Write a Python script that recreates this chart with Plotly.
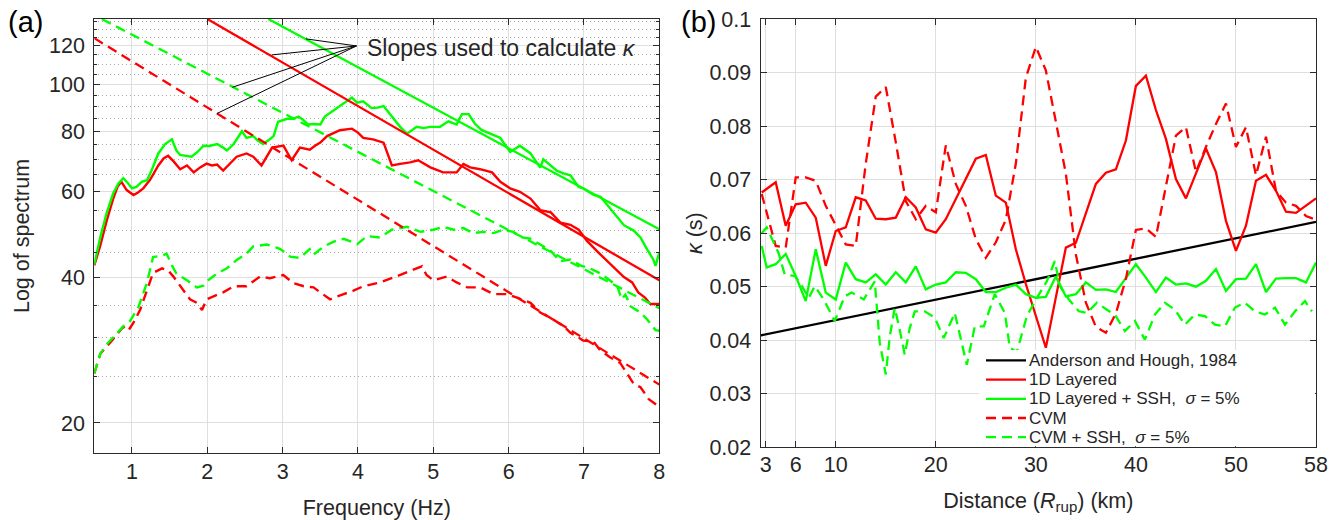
import math
import plotly.graph_objects as go

W, H = 1338, 520

# ---------------- Panel (a): spectra ----------------
freq_1d_ssh = [0.50, 0.58, 0.66, 0.75, 0.82, 0.885, 0.95, 1.00, 1.06, 1.13, 1.20, 1.26, 1.35, 1.44, 1.53, 1.59,
               1.64, 1.72, 1.79, 1.87, 1.95, 2.03, 2.13, 2.20, 2.26, 2.35, 2.46, 2.52, 2.61, 2.67, 2.74, 2.82,
               2.88, 2.94, 3.06, 3.14, 3.21, 3.27, 3.34, 3.42, 3.50, 3.56, 3.67, 3.76, 3.81, 3.92, 3.99, 4.07,
               4.18, 4.26, 4.34, 4.45, 4.56, 4.65, 4.78, 4.87, 4.96, 5.09, 5.20, 5.31, 5.38, 5.47, 5.55, 5.64,
               5.77, 5.89, 6.02, 6.15, 6.29, 6.42, 6.46, 6.55, 6.64, 6.73, 6.82, 6.93, 6.99, 7.06, 7.13, 7.22,
               7.35, 7.44, 7.53, 7.66, 7.75, 7.84, 7.92, 7.95, 8.00]
amp_1d_ssh = [42.5, 48.4, 54.0, 59.5, 62.4, 64.0, 62.4, 61.0, 61.4, 62.9, 63.4, 66.4, 72.0, 75.3, 77.0, 73.0,
              71.5, 71.2, 70.9, 72.5, 74.7, 74.6, 75.3, 74.2, 73.0, 75.3, 80.0, 77.5, 78.2, 76.5, 75.3, 76.8,
              78.2, 83.7, 84.9, 84.9, 85.8, 84.5, 82.6, 82.8, 82.6, 85.8, 88.3, 90.4, 91.6, 93.9, 91.6, 92.2,
              89.3, 89.5, 90.2, 85.8, 81.7, 79.1, 81.7, 81.2, 81.7, 81.7, 83.9, 82.6, 86.8, 86.8, 83.0, 80.5,
              79.0, 77.5, 72.5, 74.7, 72.0, 67.3, 70.0, 68.0, 66.3, 65.5, 64.9, 61.4, 61.0, 60.0, 59.1, 58.6,
              55.4, 53.5, 51.2, 49.9, 48.3, 45.6, 43.5, 42.2, 45.0]

freq_1d = [0.50, 0.58, 0.66, 0.75, 0.81, 0.86, 0.93, 1.02, 1.08, 1.15, 1.24, 1.35, 1.42, 1.48, 1.55, 1.64,
           1.73, 1.82, 1.90, 1.99, 2.06, 2.13, 2.21, 2.30, 2.39, 2.52, 2.61, 2.72, 2.86, 3.01, 3.12, 3.23,
           3.36, 3.43, 3.50, 3.59, 3.67, 3.76, 3.92, 4.00, 4.07, 4.20, 4.34, 4.45, 4.56, 4.69, 4.80, 4.96,
           5.13, 5.31, 5.40, 5.49, 5.62, 5.78, 5.89, 6.02, 6.15, 6.29, 6.42, 6.56, 6.69, 6.82, 6.93, 7.04,
           7.17, 7.26, 7.39, 7.53, 7.64, 7.72, 7.81, 7.88, 8.00]
amp_1d = [42.3, 46.5, 52.0, 58.0, 61.5, 62.9, 60.5, 59.1, 59.8, 61.0, 63.5, 68.0, 70.3, 71.2, 69.4, 66.8,
          68.0, 65.8, 67.3, 68.6, 68.0, 68.3, 66.4, 68.6, 70.9, 72.0, 70.9, 68.0, 74.0, 74.7, 69.7, 74.0,
          73.3, 74.7, 75.8, 78.2, 79.3, 80.4, 81.0, 79.5, 77.5, 77.0, 75.8, 68.0, 68.5, 69.0, 69.7, 67.4,
          65.8, 65.8, 68.5, 67.4, 66.8, 65.8, 62.9, 61.0, 60.0, 58.1, 55.0, 54.4, 51.8, 51.3, 50.1, 47.5,
          45.3, 43.9, 42.1, 40.0, 39.0, 37.2, 36.3, 35.2, 35.2]

freq_cvm_ssh = [0.50, 0.58, 0.66, 0.77, 0.88, 0.97, 1.08, 1.20, 1.28, 1.40, 1.46, 1.53, 1.59, 1.73, 1.86, 1.95,
                2.01, 2.13, 2.26, 2.39, 2.52, 2.61, 2.79, 2.92, 2.97, 3.10, 3.23, 3.36, 3.41, 3.54, 3.67, 3.81,
                3.99, 4.12, 4.29, 4.45, 4.65, 4.83, 5.00, 5.13, 5.27, 5.40, 5.53, 5.67, 5.80, 5.93, 6.06, 6.18,
                6.29, 6.42, 6.55, 6.68, 6.82, 6.95, 7.08, 7.22, 7.35, 7.44, 7.50, 7.55, 7.62, 7.75, 7.84, 7.95,
                8.00]
amp_cvm_ssh = [25.3, 27.8, 29.0, 30.3, 31.6, 32.4, 34.5, 39.0, 44.0, 44.3, 44.7, 42.3, 40.7, 39.4, 38.1, 38.4,
               39.4, 40.7, 41.7, 43.4, 44.7, 46.3, 46.7, 46.0, 45.7, 44.1, 43.8, 45.7, 44.5, 46.2, 47.3, 48.0,
               46.8, 48.6, 48.3, 50.1, 50.8, 49.6, 50.1, 50.8, 50.1, 50.5, 49.3, 49.6, 49.3, 50.1, 49.6, 48.3,
               48.0, 46.7, 45.5, 43.1, 43.5, 42.3, 41.7, 40.7, 39.4, 38.4, 36.0, 36.8, 34.8, 33.8, 32.7, 31.1,
               31.0]

freq_cvm = [0.50, 0.58, 0.71, 0.80, 0.885, 0.95, 1.02, 1.11, 1.22, 1.28, 1.40, 1.48, 1.55, 1.66, 1.77, 1.86,
            1.93, 1.99, 2.08, 2.21, 2.35, 2.52, 2.70, 2.83, 3.01, 3.14, 3.28, 3.41, 3.50, 3.63, 3.81, 3.94,
            4.07, 4.29, 4.52, 4.69, 4.85, 4.91, 5.00, 5.18, 5.31, 5.45, 5.62, 5.80, 5.98, 6.11, 6.29, 6.42,
            6.55, 6.73, 6.82, 6.99, 7.13, 7.22, 7.35, 7.48, 7.57, 7.66, 7.75, 7.86, 8.00]
amp_cvm = [25.3, 27.8, 29.3, 30.5, 31.6, 31.0, 32.2, 34.3, 38.3, 40.8, 41.7, 41.3, 40.1, 38.1, 36.0, 35.4,
           34.2, 36.0, 36.5, 37.2, 38.3, 38.3, 40.1, 39.8, 40.4, 38.9, 38.3, 38.1, 37.2, 36.0, 36.9, 37.5,
           38.3, 39.0, 40.2, 41.1, 42.1, 40.4, 39.4, 40.1, 39.0, 38.1, 38.1, 36.9, 36.9, 36.3, 35.4, 33.8,
           33.0, 31.7, 30.7, 29.6, 29.4, 28.2, 27.3, 26.6, 25.3, 24.1, 23.7, 22.4, 21.6]

# straight-line slope fits (start/end frequency and amplitude)
slope_names = ["1D Layered + SSH", "1D Layered", "CVM + SSH", "CVM"]
slope_freq_start = [2.81, 2.00, 0.60, 0.50]
slope_amp_start = [136.4, 136.4, 136.4, 124.5]
slope_freq_end = [8.0, 8.0, 8.0, 8.0]
slope_amp_end = [50.2, 39.4, 34.5, 24.0]

# leader lines of the "Slopes used to calculate kappa" callout
callout_freq = 3.98
callout_amp = 120.0
leader_freq = [3.31, 2.856, 2.333, 2.125]
leader_amp = [124.1, 115.0, 98.6, 87.0]

spec_xticks = [1, 2, 3, 4, 5, 6, 7, 8]
spec_yticks = [20, 40, 60, 80, 100, 120]
spec_yminor = [25, 30, 35, 45, 50, 55, 65, 70, 75, 85, 90, 95, 105, 110, 115, 125, 130, 135]

# ---------------- Panel (b): kappa vs distance ----------------
ah_dist = [2.5, 58.0]
ah_kappa = [0.0409, 0.0621]

dist_1d = [2.6, 4, 5, 6, 7, 8, 9, 10, 11, 12, 13, 14, 15, 16, 17, 18, 19, 20, 21, 22, 23, 24, 25, 26, 27,
           28, 29, 30, 31, 32, 33, 34, 35, 36, 37, 38, 39, 40, 41, 42, 43, 44, 45, 46, 47, 48, 49, 50, 51,
           52, 53, 54, 55, 56, 57, 58]
kappa_1d = [0.0676, 0.0695, 0.0614, 0.0654, 0.0657, 0.0629, 0.0539, 0.0604, 0.0611, 0.0667, 0.0661, 0.0627,
            0.0626, 0.0629, 0.0667, 0.0648, 0.0607, 0.0601, 0.0626, 0.0664, 0.0701, 0.0739, 0.0746, 0.0670,
            0.0657, 0.0570, 0.0505, 0.0445, 0.0386, 0.0480, 0.0573, 0.0582, 0.0635, 0.0692, 0.0713, 0.0719,
            0.0773, 0.0875, 0.0894, 0.0830, 0.0776, 0.0701, 0.0665, 0.0711, 0.0758, 0.0714, 0.0623, 0.0567,
            0.0614, 0.0698, 0.0709, 0.0679, 0.0640, 0.0638, 0.0651, 0.0665]

dist_1d_ssh = [2.6, 3.1, 4, 5, 6, 7, 8, 9, 10, 11, 12, 13, 14, 15, 16, 17, 18, 19, 20, 21, 22, 23, 24, 25,
               26, 27, 28, 29, 30, 31, 32, 33, 34, 35, 36, 37, 38, 39, 40, 41, 42, 43, 44, 45, 46, 47, 48,
               49, 50, 51, 52, 53, 54, 55, 56, 57, 58]
kappa_1d_ssh = [0.0576, 0.0536, 0.0542, 0.0561, 0.0520, 0.0473, 0.0570, 0.0489, 0.0476, 0.0545, 0.0514,
                0.0508, 0.0523, 0.0504, 0.0527, 0.0508, 0.0538, 0.0495, 0.0504, 0.0508, 0.0527, 0.0526,
                0.0514, 0.0490, 0.0490, 0.0498, 0.0504, 0.0486, 0.0479, 0.0481, 0.0519, 0.0482, 0.0486,
                0.0508, 0.0494, 0.0495, 0.0490, 0.0517, 0.0542, 0.0517, 0.0490, 0.0517, 0.0504, 0.0506,
                0.0500, 0.0511, 0.0533, 0.0492, 0.0514, 0.0515, 0.0542, 0.0490, 0.0515, 0.0516, 0.0516,
                0.0508, 0.0545]

dist_cvm = [2.6, 4, 5, 6, 7, 8, 9, 10, 11, 12, 13, 14, 15, 16, 17, 18, 19, 20, 21, 22, 23, 24, 25, 26, 27,
            28, 29, 30, 31, 32, 33, 34, 35, 36, 37, 38, 39, 40, 41, 42, 43, 44, 45, 46, 47, 48, 49, 50, 51,
            52, 53, 54, 55, 56, 57, 58]
kappa_cvm = [0.0673, 0.0576, 0.0573, 0.0704, 0.0704, 0.0698, 0.0651, 0.0614, 0.0579, 0.0576, 0.0730, 0.0855,
             0.0873, 0.0770, 0.0660, 0.0626, 0.0651, 0.0639, 0.0764, 0.0692, 0.0651, 0.0589, 0.0554, 0.0583,
             0.0625, 0.0730, 0.0890, 0.0948, 0.0904, 0.0808, 0.0711, 0.0560, 0.0470, 0.0425, 0.0414, 0.0450,
             0.0515, 0.0606, 0.0609, 0.0593, 0.0689, 0.0782, 0.0798, 0.0714, 0.0761, 0.0804, 0.0842, 0.0761,
             0.0798, 0.0708, 0.0780, 0.0679, 0.0657, 0.0651, 0.0632, 0.0625]

dist_cvm_ssh = [2.6, 3.1, 4.3, 4.9, 5.9, 6.4, 7.3, 7.9, 8.8, 9.9, 10.9, 11.6, 12.8, 13.9, 14.4, 15.0, 15.4,
                15.9, 16.4, 16.9, 17.4, 17.9, 18.9, 19.9, 20.8, 21.9, 23.1, 23.9, 24.8, 25.9, 26.9, 27.4,
                28.1, 28.6, 29.1, 30.1, 31.1, 31.9, 32.4, 33.3, 34.3, 35.1, 36.1, 37.1, 37.9, 38.9, 39.9,
                40.9, 41.9, 42.9, 43.9, 44.9, 45.9, 46.9, 47.9, 48.9, 49.9, 50.9, 51.9, 52.9, 53.9, 54.9,
                55.9, 56.9, 57.6]
kappa_cvm_ssh = [0.0600, 0.0611, 0.0562, 0.0523, 0.0520, 0.0508, 0.0479, 0.0501, 0.0476, 0.0436, 0.0482,
                 0.0489, 0.0476, 0.0510, 0.0395, 0.0336, 0.0407, 0.0460, 0.0419, 0.0373, 0.0423, 0.0454,
                 0.0454, 0.0442, 0.0404, 0.0451, 0.0354, 0.0426, 0.0426, 0.0486, 0.0451, 0.0386, 0.0378,
                 0.0414, 0.0445, 0.0479, 0.0510, 0.0548, 0.0501, 0.0476, 0.0454, 0.0451, 0.0470, 0.0457,
                 0.0448, 0.0417, 0.0436, 0.0401, 0.0448, 0.0470, 0.0457, 0.0429, 0.0448, 0.0445, 0.0429,
                 0.0426, 0.0461, 0.0470, 0.0454, 0.0448, 0.0461, 0.0429, 0.0454, 0.0473, 0.0454]

kappa_xticks = [3, 6, 10, 20, 30, 40, 50, 58]
kappa_yticks = [0.02, 0.03, 0.04, 0.05, 0.06, 0.07, 0.08, 0.09, 0.1]
kappa_yticktext = ["0.02", "0.03", "0.04", "0.05", "0.06", "0.07", "0.08", "0.09", "0.1"]

legend_labels = ["Anderson and Hough, 1984", "1D Layered",
                 "1D Layered + SSH,\u00a0\u00a0<i>σ</i> = 5%", "CVM",
                 "CVM + SSH,\u00a0\u00a0<i>σ</i> = 5%"]

# ---------------- styling ----------------
RED = "#ff0000"
GREEN = "#00ff00"
BLACK = "#000000"
FONT = "Liberation Sans, Arial, Helvetica, sans-serif"
TXT = "#262626"
GRID = "#dfdfdf"
AXC = "#2b2b2b"
DASH = "10px,6px"
TICK_FS = 21.5
TITLE_FS = 21.5

def px(x):
    return x / W

def py(y):
    return 1 - y / H

fig = go.Figure()

# spectra
for fx, fy, col, dash in [(freq_cvm, amp_cvm, RED, DASH), (freq_cvm_ssh, amp_cvm_ssh, GREEN, DASH),
                          (freq_1d, amp_1d, RED, "solid"), (freq_1d_ssh, amp_1d_ssh, GREEN, "solid")]:
    fig.add_trace(go.Scatter(x=fx, y=fy, mode="lines", xaxis="x", yaxis="y", showlegend=False,
                             line=dict(color=col, width=2.4, dash=dash), hoverinfo="skip"))

slope_colors = [GREEN, RED, GREEN, RED]
slope_dash = ["solid", "solid", DASH, DASH]
for i in range(4):
    fig.add_trace(go.Scatter(x=[slope_freq_start[i], slope_freq_end[i]],
                             y=[slope_amp_start[i], slope_amp_end[i]],
                             mode="lines", xaxis="x", yaxis="y", showlegend=False, hoverinfo="skip",
                             line=dict(color=slope_colors[i], width=2.3, dash=slope_dash[i])))

lx, ly = [], []
for f, a in zip(leader_freq, leader_amp):
    lx += [callout_freq, f, None]
    ly += [callout_amp, a, None]
fig.add_trace(go.Scatter(x=lx, y=ly, mode="lines", xaxis="x", yaxis="y", showlegend=False,
                         hoverinfo="skip", line=dict(color=BLACK, width=1)))

# kappa panel
k_series = [(ah_dist, ah_kappa, BLACK, "solid"), (dist_1d, kappa_1d, RED, "solid"),
            (dist_1d_ssh, kappa_1d_ssh, GREEN, "solid"), (dist_cvm, kappa_cvm, RED, DASH),
            (dist_cvm_ssh, kappa_cvm_ssh, GREEN, DASH)]
for (dx, ky, col, dash), name in zip(k_series, legend_labels):
    fig.add_trace(go.Scatter(x=dx, y=ky, mode="lines", xaxis="x2", yaxis="y2", name=name,
                             showlegend=False, hoverinfo="skip",
                             line=dict(color=col, width=2.3, dash=dash)))

axis_common = dict(showline=True, linecolor=AXC, linewidth=1.3, mirror="ticks", ticks="inside",
                   ticklen=6, tickwidth=1, tickcolor=AXC, showgrid=True, gridcolor=GRID, gridwidth=1,
                   zeroline=False, automargin=False,
                   tickfont=dict(size=TICK_FS, color=TXT, family=FONT),
                   title_font=dict(size=TITLE_FS, color=TXT, family=FONT))

L_left, L_right, L_top, L_bot = 94.3, 659.3, 19.0, 453.0
R_left, R_right, R_top, R_bot = 760.7, 1316.0, 19.0, 447.3

fig.update_layout(
    width=W, height=H, margin=dict(l=0, r=0, t=0, b=0, autoexpand=False),
    paper_bgcolor="white", plot_bgcolor="white",
    font=dict(family=FONT, color=TXT, size=20),
    showlegend=False,
    xaxis=dict(axis_common, domain=[px(L_left), px(L_right)], range=[0.5, 8], tickmode="array",
               tickvals=spec_xticks, anchor="y", ticklabelstandoff=-1,
               title=dict(text="Frequency (Hz)", standoff=19)),
    yaxis=dict(axis_common, type="log", domain=[py(L_bot), py(L_top)],
               range=[math.log10(17.34), math.log10(136.4)], tickmode="array", tickvals=spec_yticks,
               anchor="x", ticklabelstandoff=4,
               minor=dict(tickmode="array", tickvals=spec_yminor, ticks="inside", ticklen=3,
                          tickcolor=AXC, showgrid=True, griddash="1px,3px", gridcolor="#a8a8a8",
                          gridwidth=1),
               title=dict(text="Log of spectrum", standoff=13)),
    xaxis2=dict(axis_common, domain=[px(R_left), px(R_right)], range=[2.5, 58], tickmode="array",
                tickvals=kappa_xticks, anchor="y2", ticklabelstandoff=-2,
                title=dict(text="Distance (<i>R</i><sub>rup</sub>) (km)", standoff=16)),
    yaxis2=dict(axis_common, domain=[py(R_bot), py(R_top)], range=[0.02, 0.1], tickmode="array",
                tickvals=kappa_yticks, ticktext=kappa_yticktext, anchor="x2", ticklabelstandoff=4,
                title=dict(text="<i>κ</i> (s)", standoff=0)),
)

ann = []
ann.append(dict(text="(a)", x=px(25), y=py(22), xref="paper", yref="paper", showarrow=False,
                font=dict(size=29, color="#000000", family=FONT), xanchor="center", yanchor="middle"))
ann.append(dict(text="(b)", x=px(699), y=py(22), xref="paper", yref="paper", showarrow=False,
                font=dict(size=29, color="#000000", family=FONT), xanchor="center", yanchor="middle"))
ann.append(dict(text="Slopes used to calculate <i>κ</i>", x=px(365), y=py(48), xref="paper", yref="paper",
                showarrow=False, font=dict(size=23, color=TXT, family=FONT), xanchor="left",
                yanchor="middle"))

# manual legend (compact, MATLAB-style)
shapes = [dict(type="rect", xref="paper", yref="paper", x0=px(979), x1=px(R_right - 1), y0=py(R_bot - 1),
               y1=py(350), fillcolor="white", line=dict(width=0), layer="above")]
leg_colors = [BLACK, RED, GREEN, RED, GREEN]
leg_dash = ["solid", "solid", "solid", DASH, DASH]
leg_y = [360.4, 379.6, 398.8, 418.0, 437.2]
for lab, col, dsh, yy in zip(legend_labels, leg_colors, leg_dash, leg_y):
    shapes.append(dict(type="line", xref="paper", yref="paper", x0=px(986), x1=px(1026), y0=py(yy), y1=py(yy),
                       line=dict(color=col, width=2.3, dash=dsh), layer="above"))
    ann.append(dict(text=lab, x=px(1028), y=py(yy), xref="paper", yref="paper", showarrow=False,
                    xanchor="left", yanchor="middle", borderpad=0,
                    font=dict(size=17, color=TXT, family=FONT)))

fig.update_layout(annotations=ann, shapes=shapes)
fig.write_html("out.html")
